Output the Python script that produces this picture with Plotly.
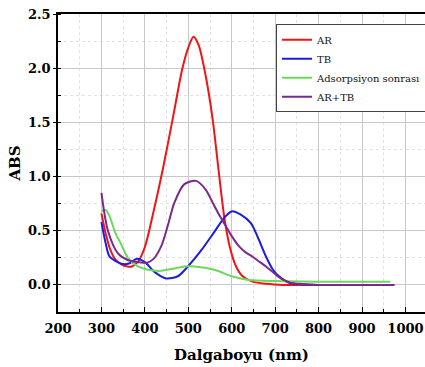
import plotly.graph_objects as go

# AR
ar_x = [300, 310, 320, 331, 346, 360, 370, 385, 400, 419, 441, 464, 486, 500, 512, 524, 540, 556, 568, 583, 595, 610, 625, 648, 680, 720, 800, 900, 970]
ar_y = [0.66, 0.47, 0.33, 0.24, 0.19, 0.17, 0.17, 0.22, 0.35, 0.66, 1.06, 1.53, 1.99, 2.19, 2.29, 2.21, 1.93, 1.53, 1.12, 0.62, 0.36, 0.17, 0.08, 0.03, 0.01, 0.0, 0.0, 0.0, 0.0]

# TB
tb_x = [300, 310, 319, 346, 365, 380, 400, 422, 449, 476, 499, 530, 560, 585, 601, 620, 644, 660, 679, 695, 709, 732, 760, 800, 900, 970]
tb_y = [0.58, 0.38, 0.26, 0.195, 0.20, 0.24, 0.21, 0.12, 0.06, 0.08, 0.17, 0.32, 0.49, 0.63, 0.68, 0.65, 0.57, 0.44, 0.26, 0.14, 0.08, 0.02, 0.005, 0.0, 0.0, 0.0]

# Adsorpsiyon sonrası
ad_x = [300, 310, 319, 331, 346, 361, 384, 407, 438, 465, 491, 514, 560, 602, 640, 700, 800, 900, 965]
ad_y = [0.68, 0.69, 0.63, 0.49, 0.37, 0.25, 0.17, 0.14, 0.13, 0.15, 0.17, 0.17, 0.14, 0.077, 0.046, 0.035, 0.03, 0.03, 0.03]

# AR+TB
mix_x = [300, 315, 338, 360, 385, 405, 420, 438, 453, 468, 491, 518, 540, 556, 572, 587, 600, 617, 632, 648, 665, 679, 700, 717, 735, 755, 800, 900, 975]
mix_y = [0.85, 0.50, 0.29, 0.23, 0.21, 0.205, 0.24, 0.36, 0.55, 0.76, 0.93, 0.96, 0.88, 0.76, 0.64, 0.54, 0.45, 0.355, 0.30, 0.26, 0.21, 0.17, 0.10, 0.05, 0.02, 0.01, 0.0, 0.0, 0.0]

series = [
    ("AR", ar_x, ar_y, "#f01414"),
    ("TB", tb_x, tb_y, "#1c1ce0"),
    ("Adsorpsiyon sonrası", ad_x, ad_y, "#6cd85c"),
    ("AR+TB", mix_x, mix_y, "#7a2a8c"),
]

fig = go.Figure()
for name, xs, ys, col in series:
    fig.add_trace(go.Scatter(x=xs, y=ys, name=name, mode="lines",
                             line=dict(color=col, width=2, shape="spline", smoothing=0.8)))

font_family = "DejaVu Serif"
fig.update_layout(
    width=425, height=367,
    margin=dict(l=58, r=0, t=14, b=55, autoexpand=False),
    paper_bgcolor="white", plot_bgcolor="white",
    font=dict(family=font_family, color="black"),
    showlegend=True,
    legend=dict(x=0.594, y=0.966, xanchor="left", yanchor="top",
                bordercolor="#444", borderwidth=1, bgcolor="white",
                font=dict(family=font_family, size=10, color="#111"),
                tracegroupgap=0, itemwidth=30),
)
fig.update_xaxes(
    range=[200, 1045], dtick=100, tick0=200, automargin=False,
    showline=True, linecolor="black", linewidth=1.5, mirror=True,
    ticks="inside", ticklen=5, tickcolor="black",
    tickfont=dict(family=font_family, size=13, weight="bold"),
    ticklabelstandoff=4, ticklabeloverflow="allow",
    showgrid=True, gridcolor="#c8c8c8", gridwidth=1,
    minor=dict(dtick=50, showgrid=True, gridcolor="#e2e2e2", griddash="dot",
               ticks="inside", ticklen=3, tickcolor="black"),
    zeroline=False,
    title=dict(text="<b>Dalgaboyu (nm)</b>", font=dict(family=font_family, size=15), standoff=14),
)
fig.update_yaxes(
    range=[-0.25, 2.5], dtick=0.5, tick0=0, tickformat=".1f", automargin=False,
    showline=True, linecolor="black", linewidth=1.5,
    ticks="outside", ticklen=3, tickcolor="black",
    tickfont=dict(family=font_family, size=13, weight="bold"),
    showgrid=True, gridcolor="#c8c8c8", gridwidth=1,
    minor=dict(dtick=0.25, showgrid=True, gridcolor="#e2e2e2", griddash="dot",
               ticks="inside", ticklen=3, tickcolor="black"),
    zeroline=False,
    title=dict(text="<b>ABS</b>", font=dict(family=font_family, size=15), standoff=4),
)

fig.write_html("out.html")
